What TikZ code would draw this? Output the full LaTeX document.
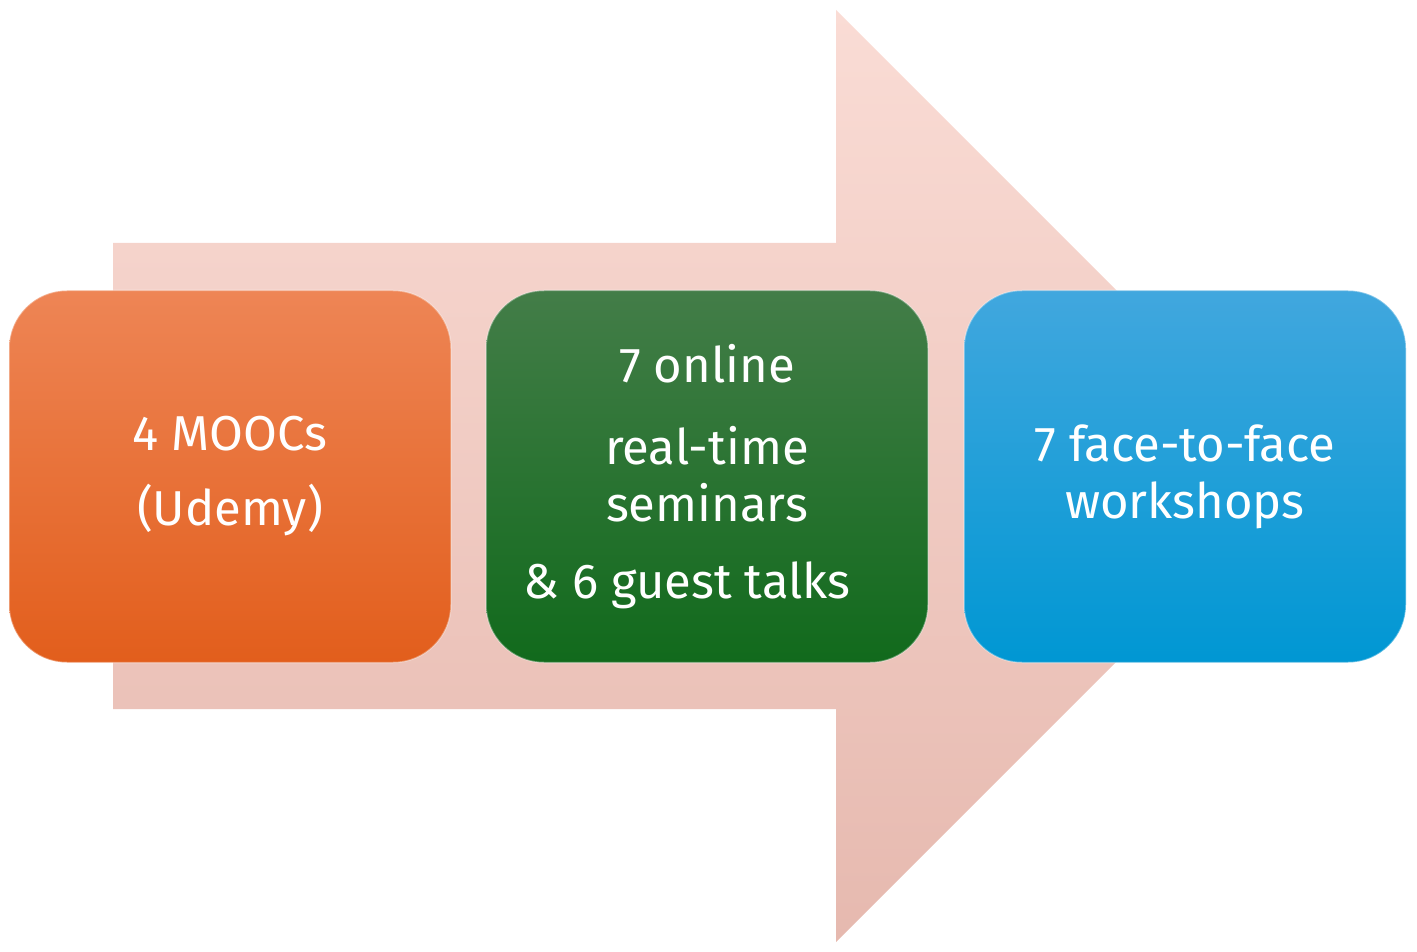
\documentclass[tikz,border=0pt]{standalone}
\usepackage{fontspec}
\setmainfont{Fira Sans}
\usetikzlibrary{shapes.misc}
\definecolor{arrtop}{HTML}{FADCD5}
\definecolor{arrbot}{HTML}{E6B9AF}
\definecolor{ortop}{HTML}{EE8555}
\definecolor{orbot}{HTML}{E25E1C}
\definecolor{grtop}{HTML}{437D48}
\definecolor{grbot}{HTML}{116A1C}
\definecolor{bltop}{HTML}{41A7DE}
\definecolor{blbot}{HTML}{0097D3}
\tikzset{
  stagebox/.style={rectangle, rounded corners=58pt, minimum width=442pt, minimum height=372pt,
    inner sep=0pt, align=center, text=white, draw=white, draw opacity=0.35, line width=1.5pt,
    font=\fontsize{49}{57}\selectfont},
  bigarrow/.style={top color=arrtop, bottom color=arrbot, draw=none}
}
\begin{document}
\begin{tikzpicture}[x=1pt,y=-1pt]
\useasboundingbox (0,0) rectangle (1417,952);
\coordinate (a1) at (113,243);
\coordinate (a2) at (836,243);
\coordinate (a3) at (836,10);
\coordinate (tip) at (1302,476);
\coordinate (a5) at (836,942);
\coordinate (a6) at (836,709);
\coordinate (a7) at (113,709);
\path[bigarrow] (a1) -- (a2) -- (a3) -- (tip) -- (a5) -- (a6) -- (a7) -- cycle;
\node[stagebox, top color=ortop, bottom color=orbot] (moocs) at (230,476.5)
  {4 MOOCs\\[18pt](Udemy)};
\node[stagebox, top color=grtop, bottom color=grbot] (seminars) at (707,476.5)
  {7 online\\[25pt]real-time\\seminars\\[20pt]\hspace*{-40pt}\& 6 guest talks};
\node[stagebox, top color=bltop, bottom color=blbot] (workshops) at (1185,476.5)
  {7 face-to-face\\workshops};
\end{tikzpicture}
\end{document}
